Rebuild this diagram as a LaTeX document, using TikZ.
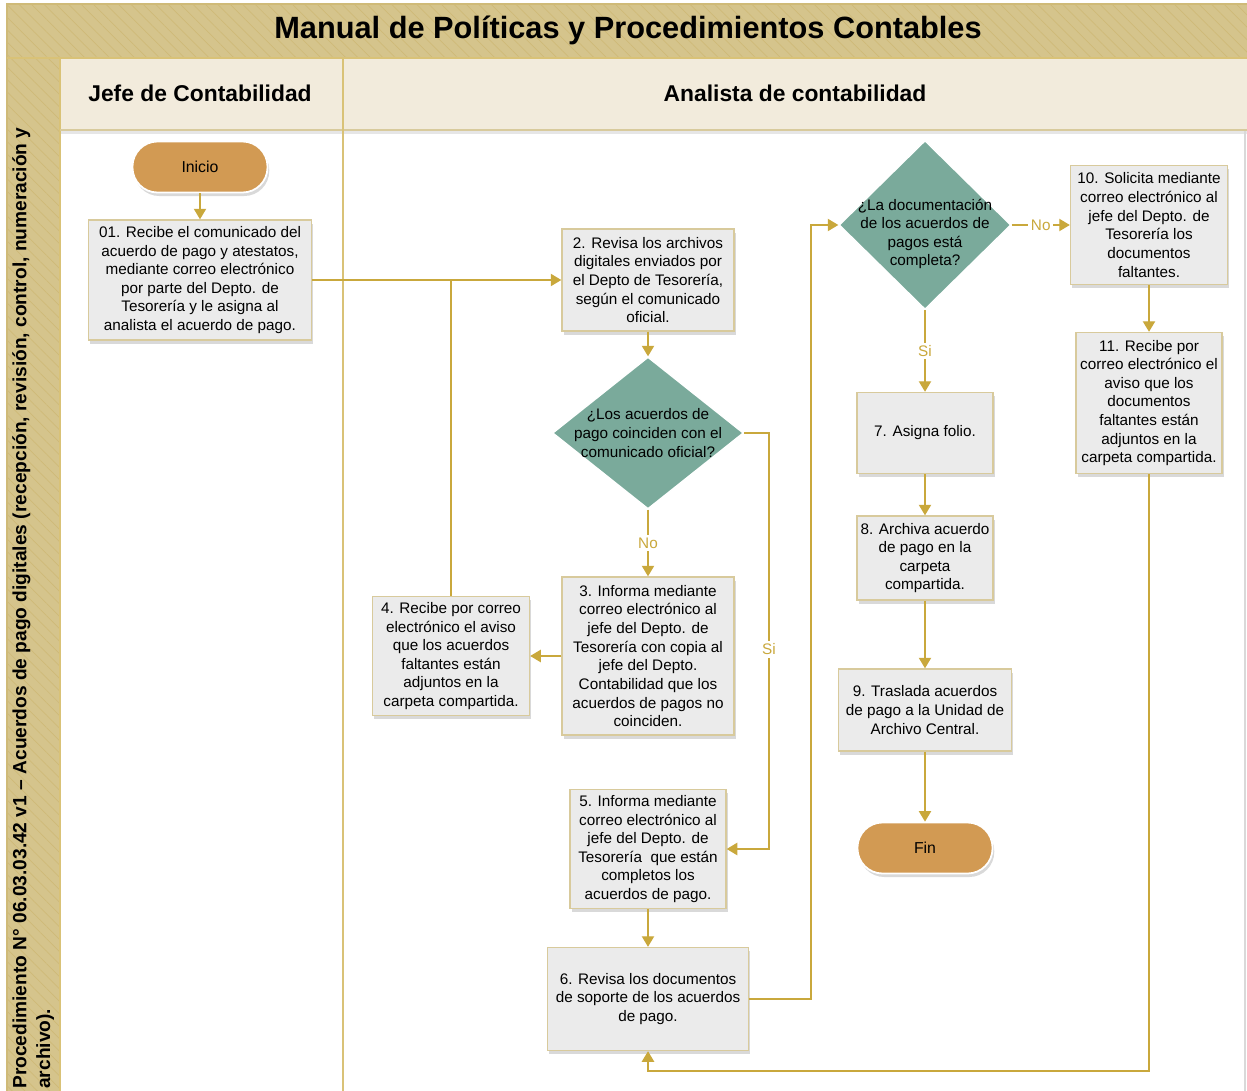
\documentclass[tikz,border=0pt]{standalone}
\usepackage{fontspec}
\setmainfont{Liberation Sans}
\usetikzlibrary{shapes.geometric, arrows.meta, positioning, shadows, patterns.meta}

\definecolor{bandtan}{HTML}{D5C48C}
\definecolor{hatchtan}{HTML}{CFBA78}
\definecolor{headcream}{HTML}{F2EBDC}
\definecolor{linegold}{HTML}{C9A83C}
\definecolor{boxgray}{HTML}{EBEBEB}
\definecolor{boxedge}{HTML}{D8CA9C}
\definecolor{termorange}{HTML}{D29A53}
\definecolor{decteal}{HTML}{7AAA9B}

\tikzset{
  boxsize/.style 2 args={minimum width=#1*0.02cm, minimum height=#2*0.02cm},
  stepbox/.style={draw=boxedge, fill=boxgray, line width=0.8pt, align=center,
    inner sep=2pt, font=\fontsize{8.7}{10.6}\selectfont,
    drop shadow={opacity=0.3, shadow xshift=1pt, shadow yshift=-2pt}},
  terminal/.style={draw=white, fill=termorange, line width=1pt, rounded corners=0.5cm,
    boxsize={135}{51}, font=\fontsize{9}{11}\selectfont,
    drop shadow={opacity=0.3, shadow xshift=1pt, shadow yshift=-2pt}},
  decision/.style={diamond, draw=white, fill=decteal, line width=0.8pt, inner sep=0pt},
  qtext/.style={align=center, inner sep=0pt, font=\fontsize{8.7}{10.6}\selectfont},
  lanehead/.style={font=\fontsize{13}{15}\selectfont\bfseries},
  link/.style={draw=linegold, line width=0.8pt},
  flow/.style={link, -{Triangle[width=7pt,length=6pt]}},
  flowlabel/.style={fill=white, text=linegold, inner sep=1.5pt, font=\fontsize{8.7}{10.6}\selectfont}
}

\begin{document}
\begin{tikzpicture}[x=0.02cm, y=-0.02cm]
    \useasboundingbox (0,0) rectangle (1247,1091);

    % Pool frame
    \fill[bandtan] (7,4) rectangle (1247,58);
    \fill[bandtan] (7,58) rectangle (60,1091);
    \fill[pattern={Lines[angle=-45,distance=5pt,line width=0.4pt]}, pattern color=hatchtan] (7,4) rectangle (1247,58);
    \fill[pattern={Lines[angle=-45,distance=5pt,line width=0.4pt]}, pattern color=hatchtan] (7,58) rectangle (60,1091);
    \fill[headcream, drop shadow={opacity=0.2, shadow xshift=0pt, shadow yshift=-2pt}] (60,58) rectangle (1247,130);
    \draw[black!15, line width=1.5pt] (1245,130) -- (1245,1091);
    \draw[hatchtan, line width=0.8pt] (7,1091) -- (7,4) -- (1247,4);
    \draw[linegold!70, line width=0.8pt] (7,58) -- (1247,58);
    \draw[linegold!70, line width=0.8pt] (60,58) -- (60,1091);
    \draw[boxedge, line width=0.8pt] (60,130) -- (1247,130);
    \draw[linegold!70, line width=0.8pt] (343,58) -- (343,1091);

    % Titles
    \node[font=\fontsize{17.5}{20}\selectfont\bfseries] (title) at (628,30) {Manual de Políticas y Procedimientos Contables};
    \node[lanehead] (jefe) at (200,93) {Jefe de Contabilidad};
    \node[lanehead] (analista) at (795,93) {Analista de contabilidad};
    \node[rotate=90, anchor=north west, align=left, inner sep=0pt,
          font=\fontsize{10.9}{13.5}\selectfont\bfseries] (proc) at (12,1089)
        {Procedimiento N° 06.03.03.42 v1 – Acuerdos de pago digitales (recepción, revisión, control, numeración y\\archivo).};

    % Jefe de Contabilidad
    \node[terminal] (start) at (200,167) {Inicio};
    \node[stepbox, boxsize={223}{120}] (b01) at (200,280)
        {01. Recibe el comunicado del\\ acuerdo de pago y atestatos,\\ mediante correo electrónico\\ por parte del Depto. de\\ Tesorería y le asigna al\\ analista el acuerdo de pago.};

    % Analista de contabilidad
    \node[stepbox, boxsize={172}{102}] (b02) at (648,280)
        {2. Revisa los archivos\\ digitales enviados por\\ el Depto de Tesorería,\\ según el comunicado\\ oficial.};
    \node[decision, boxsize={191}{152}] (d1) at (648,433) {};
    \node[qtext] (d1text) at (d1) {¿Los acuerdos de\\ pago coinciden con el\\ comunicado oficial?};
    \node[stepbox, boxsize={172}{158}] (b03) at (648,656)
        {3. Informa mediante\\ correo electrónico al\\ jefe del Depto. de\\ Tesorería con copia al\\ jefe del Depto.\\ Contabilidad que los\\ acuerdos de pagos no\\ coinciden.};
    \node[stepbox, boxsize={157}{119}] (b04) at (451,656)
        {4. Recibe por correo\\ electrónico el aviso\\ que los acuerdos\\ faltantes están\\ adjuntos en la\\ carpeta compartida.};
    \node[stepbox, boxsize={156}{119}] (b05) at (648,849)
        {5. Informa mediante\\ correo electrónico al\\ jefe del Depto. de\\ Tesorería~ que están\\ completos los\\ acuerdos de pago.};
    \node[stepbox, boxsize={201}{103}] (b06) at (648,999)
        {6. Revisa los documentos\\ de soporte de los acuerdos\\ de pago.};
    \node[decision, boxsize={172}{169}] (d2) at (925,225) {};
    \node[qtext, yshift=-0.18cm] (d2text) at (d2)
        {¿La documentación\\ de los acuerdos de\\ pagos está\\ completa?};
    \node[stepbox, boxsize={136}{81}] (b07) at (925,433) {7. Asigna folio.};
    \node[stepbox, boxsize={136}{84}] (b08) at (925,558)
        {8. Archiva acuerdo\\ de pago en la\\ carpeta\\ compartida.};
    \node[stepbox, boxsize={173}{82}] (b09) at (925,710)
        {9. Traslada acuerdos\\ de pago a la Unidad de\\ Archivo Central.};
    \node[terminal] (stop) at (925,848) {Fin};
    \node[stepbox, boxsize={157}{119}] (b10) at (1149,225)
        {10. Solicita mediante\\ correo electrónico al\\ jefe del Depto. de\\ Tesorería los\\ documentos\\ faltantes.};
    \node[stepbox, boxsize={146}{141}] (b11) at (1149,403)
        {11. Recibe por\\ correo electrónico el\\ aviso que los\\ documentos\\ faltantes están\\ adjuntos en la\\ carpeta compartida.};

    % Connectors
    \coordinate (join) at (b04.north |- b01.east);
    \coordinate (si1) at (769,433);
    \coordinate (rise) at (811,225);
    \coordinate (back) at (1149,1071);
    \draw[flow] (start) -- (b01);
    \draw[flow] (b01.east) -- (b02.west);
    \draw[link] (b04.north) -- (join);
    \draw[flow] (b02) -- (d1);
    \draw[flow] (d1.south) -- node[flowlabel] (no1) {No} (b03.north);
    \draw[flow] (d1.east) -- (si1) |- node[flowlabel, pos=0.26] (si1lab) {Si} (b05.east);
    \draw[flow] (b03.west) -- (b04.east);
    \draw[flow] (b05) -- (b06);
    \draw[flow] (b06.east) -| (rise) -- (d2.west);
    \draw[flow] (d2.east) -- node[flowlabel] (no2) {No} (b10.west);
    \draw[flow] (d2.south) -- node[flowlabel] (si2) {Si} (b07.north);
    \draw[flow] (b07) -- (b08);
    \draw[flow] (b08) -- (b09);
    \draw[flow] (b09) -- (stop);
    \draw[flow] (b10) -- (b11);
    \draw[flow] (b11.south) -- (back) -| (b06.south);
\end{tikzpicture}
\end{document}
